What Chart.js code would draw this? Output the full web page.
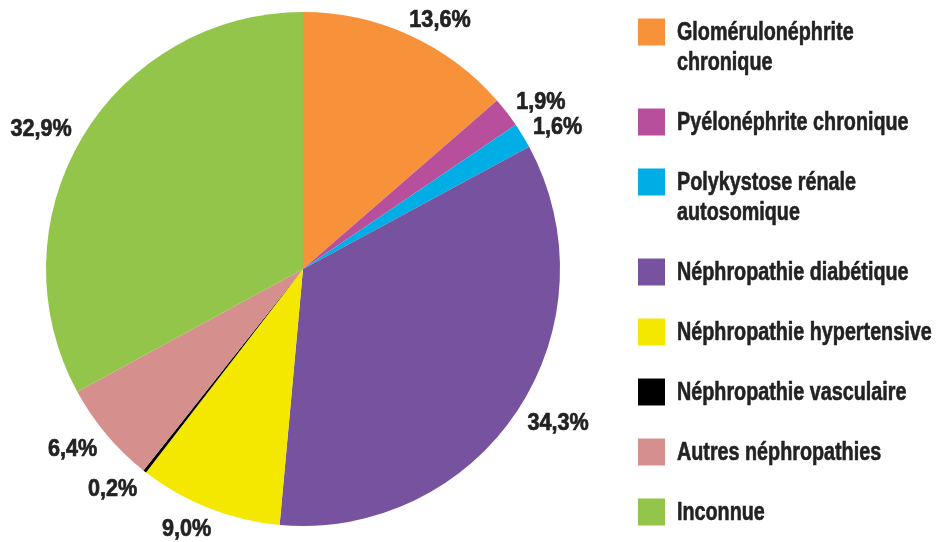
<!DOCTYPE html>
<html lang="fr">
<head>
<meta charset="utf-8">
<title>Répartition des néphropathies</title>
<script src="https://cdn.jsdelivr.net/npm/chart.js@4.4.1/dist/chart.umd.min.js"></script>
<style>
  html, body { margin: 0; padding: 0; background: #fff; }
  #wrap { position: relative; width: 941px; height: 542px; }
</style>
</head>
<body>
<div id="wrap"><canvas id="pieCanvas" width="941" height="542"></canvas></div>
<script>
// Data
const categories = [
  ['Glomérulonéphrite', 'chronique'],
  ['Pyélonéphrite chronique'],
  ['Polykystose rénale', 'autosomique'],
  ['Néphropathie diabétique'],
  ['Néphropathie hypertensive'],
  ['Néphropathie vasculaire'],
  ['Autres néphropathies'],
  ['Inconnue']
];
const shares = [13.6, 1.9, 1.6, 34.3, 9.0, 0.2, 6.4, 32.9];
const valueLabels = ['13,6%', '1,9%', '1,6%', '34,3%', '9,0%', '0,2%', '6,4%', '32,9%'];
const sliceColors = ['#f7923a', '#b84f9c', '#00aee6', '#77529f', '#f5e800', '#000000', '#d58f8c', '#92c54a'];

const FONT = "'Liberation Sans', Arial, sans-serif";
const TEXT_COLOR = '#222222';

// draw text squeezed horizontally, with a light stroke to get a heavy condensed look
function condensedText(ctx, txt, x, y, squeeze) {
  ctx.save();
  ctx.translate(x, y);
  ctx.scale(squeeze, 1);
  ctx.strokeText(txt, 0, 0);
  ctx.fillText(txt, 0, 0);
  ctx.restore();
}

// percentage labels around the pie
const outsideLabels = {
  id: 'outsideLabels',
  afterDatasetsDraw(chart) {
    const { ctx } = chart;
    const arcs = chart.getDatasetMeta(0).data;
    const squeeze = 0.9;
    ctx.save();
    ctx.font = 'bold 24px ' + FONT;
    ctx.fillStyle = TEXT_COLOR;
    ctx.strokeStyle = TEXT_COLOR;
    ctx.lineWidth = 0.7;
    ctx.textBaseline = 'middle';
    ctx.textAlign = 'center';
    arcs.forEach((arc, i) => {
      const mid = (arc.startAngle + arc.endAngle) / 2;
      const r = arc.outerRadius + 12;
      const sx = Math.cos(mid), sy = Math.sin(mid);
      const px = arc.x + sx * r;
      const py = arc.y + sy * r;
      const txt = valueLabels[i];
      const w = ctx.measureText(txt).width * squeeze;
      const h = 20;
      const k = Math.sign(sx) * Math.min(1, Math.abs(sx) * 2);
      const v = sy > 0 ? 1.1 : 0.4;
      condensedText(ctx, txt, px + (w / 2) * k, py + (h / 2) * sy * v, squeeze);
    });
    ctx.restore();
  }
};

// legend on the right
const sideLegend = {
  id: 'sideLegend',
  afterDraw(chart) {
    const { ctx } = chart;
    const boxX = 638, box = 27, textX = 677, lineH = 30, gap = 30;
    let y = 32;
    ctx.save();
    ctx.font = 'bold 25px ' + FONT;
    ctx.textBaseline = 'middle';
    ctx.textAlign = 'left';
    ctx.strokeStyle = TEXT_COLOR;
    ctx.lineWidth = 0.6;
    categories.forEach((lines, i) => {
      ctx.fillStyle = sliceColors[i];
      ctx.fillRect(boxX, y - box / 2, box, box);
      ctx.fillStyle = TEXT_COLOR;
      lines.forEach((ln, j) => condensedText(ctx, ln, textX, y + 1 + j * lineH, 0.79));
      y += lines.length * lineH + gap;
    });
    ctx.restore();
  }
};

new Chart(document.getElementById('pieCanvas'), {
  type: 'pie',
  data: {
    labels: categories.map(c => c.join(' ')),
    datasets: [{
      data: shares,
      backgroundColor: sliceColors,
      borderWidth: 0
    }]
  },
  options: {
    responsive: false,
    animation: false,
    layout: { padding: { left: 46, right: 381, top: 12, bottom: 16 } },
    plugins: {
      legend: { display: false },
      tooltip: { enabled: false }
    }
  },
  plugins: [outsideLabels, sideLegend]
});
</script>
</body>
</html>
